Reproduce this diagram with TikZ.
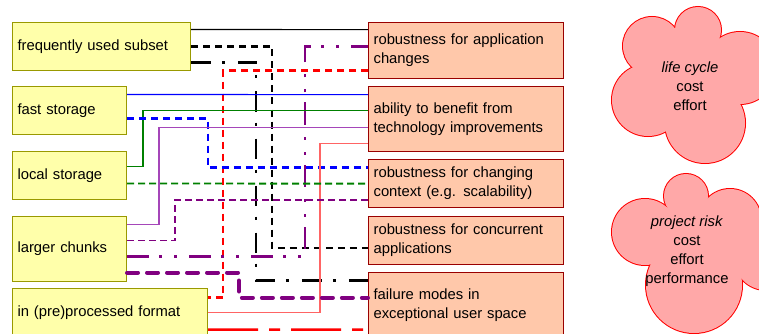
\documentclass[tikz,border=0pt]{standalone}
\usepackage{fontspec}
\setmainfont{Liberation Sans}
\definecolor{lfill}{RGB}{255,255,170}
\definecolor{ldraw}{RGB}{153,153,0}
\definecolor{rfill}{RGB}{255,200,170}
\definecolor{rdraw}{RGB}{153,0,0}
\definecolor{cfill}{RGB}{255,168,168}
\definecolor{cdraw}{RGB}{255,0,0}
\definecolor{cpurple}{RGB}{128,0,128}
\definecolor{lpurple}{RGB}{165,70,185}
\definecolor{cgreen}{RGB}{0,128,0}
\definecolor{lnred}{RGB}{255,100,100}
\begin{document}
\begin{tikzpicture}[x=1pt,y=-1pt,
  font=\fontsize{14.8}{19}\selectfont,
  lbox/.style={draw=ldraw, fill=lfill, line width=1pt, anchor=north west,
    inner xsep=5pt, inner ysep=0pt, align=left},
  rbox/.style={draw=rdraw, fill=rfill, line width=1.2pt, anchor=north west,
    inner xsep=5pt, inner ysep=0pt, align=left, text width=185pt},
  thinln/.style={line width=1.1pt},
  dashln/.style={line width=2.2pt, dash pattern=on 7pt off 5pt},
  dashthin/.style={line width=1.9pt, dash pattern=on 7pt off 4pt},
  dashdotln/.style={line width=2.3pt, dash pattern=on 20pt off 11pt on 3pt off 13pt},
  dashdotdotln/.style={line width=2.5pt, dash pattern=on 22pt off 10pt on 3pt off 12pt on 3pt off 12pt},
  thickdash/.style={line width=4pt, line cap=round, dash pattern=on 11pt off 9pt},
  longdash/.style={line width=2.5pt, dash pattern=on 50pt off 11pt on 11pt off 11pt, dash phase=0pt},
  cloudtxt/.style={align=center, inner sep=0pt}
]
\useasboundingbox (0,0) rectangle (759,334);
\clip (0,0) rectangle (759,334);

% clouds
\foreach \cx/\cy/\cr in {652/46/29, 698/30/23, 740/68/36, 705/123/40, 648/100/36,
                         686/196/22, 730/220/31, 766/258/32, 694/285/48, 645/232/33}
  \draw[cdraw, line width=2pt] (\cx,\cy) circle[radius=\cr pt];
\foreach \cx/\cy/\cr in {652/46/29, 698/30/23, 740/68/36, 705/123/40, 648/100/36,
                         686/196/22, 730/220/31, 766/258/32, 694/285/48, 645/232/33}
  \fill[cfill] (\cx,\cy) circle[radius=\cr pt];
\fill[cfill] (652,46) -- (698,30) -- (740,68) -- (705,123) -- (648,100) -- cycle;
\fill[cfill] (686,196) -- (730,220) -- (766,258) -- (694,285) -- (645,232) -- cycle;
\node[cloudtxt] (c1) at (690,86) {\textit{life cycle}\\cost\\effort};
\node[cloudtxt] (c2) at (687,251) {\textit{project risk}\\cost\\effort\\performance};

% left boxes
\node[lbox, text width=168pt, minimum height=48pt] (f1) at (12,22) {frequently used subset};
\node[lbox, text width=104pt, minimum height=48pt] (f2) at (12,86) {fast storage};
\node[lbox, text width=104pt, minimum height=48pt] (f3) at (12,151) {local storage};
\node[lbox, text width=104pt, minimum height=65pt] (f4) at (12,216) {larger chunks};
\node[lbox, text width=185pt, minimum height=48pt] (f5) at (12,288) {in (pre)processed format};

% right boxes
\node[rbox, minimum height=56pt] (r1) at (368,22) {robustness for application\\changes};
\node[rbox, minimum height=65pt] (r2) at (368,86) {ability to benefit from\\technology improvements};
\node[rbox, minimum height=48pt] (r3) at (368,159) {robustness for changing\\context (e.g. scalability)};
\node[rbox, minimum height=48pt] (r4) at (368,216) {robustness for concurrent\\applications};
\node[rbox, minimum height=65pt] (r5) at (368,272) {failure modes in\\exceptional user space};

% connectors
\draw[thinln, black] ([yshift=17pt]f1.east) -- ([yshift=21pt]r1.west);
\draw[dashln, black] (f1.east) -- ++(81,0) |- ([yshift=-7pt]r4.west);
\draw[dashdotln, black] ([yshift=-16pt]f1.east) -- ++(65,0) |- ([yshift=24.5pt]r5.west);
\draw[dashln, red] ([yshift=-20pt]r1.west) -- ++(-145,0) |- ([yshift=15pt]f5.east);
\draw[dashdotdotln, cpurple] ([yshift=-7.5pt]f4.east) -- ++(178,0) |- ([yshift=4pt]r1.west);
\draw[thinln, blue] ([yshift=16pt]f2.east) -- ([yshift=24.5pt]r2.west);
\draw[thinln, cgreen] ([yshift=9pt]f3.east) -- ++(16,0) |- ([yshift=8.5pt]r2.west);
\draw[dashln, blue, line width=2.4pt] ([yshift=-8pt]f2.east) -- ++(81,0) |- ([yshift=16pt]r3.west);
\draw[thinln, lpurple] ([yshift=24.5pt]f4.east) -- ++(32,0) |- ([yshift=-8.5pt]r2.west);
\draw[thinln, lnred, line width=1.5pt] (f5.east) -- ++(112,0) |- ([yshift=-24.5pt]r2.west);
\draw[dashthin, cgreen] ([yshift=-8pt]f3.east) -- (r3.west);
\draw[dashthin, cpurple] ([yshift=8.5pt]f4.east) -- ++(48,0) |- ([yshift=-16pt]r3.west);
\draw[thickdash, cpurple] ([yshift=-23.5pt]f4.east) -- ++(112,0) |- ([yshift=7.5pt]r5.west);
\draw[longdash, red] ([yshift=-17pt]f5.east) -- ([yshift=-24.5pt]r5.west);
\end{tikzpicture}
\end{document}
